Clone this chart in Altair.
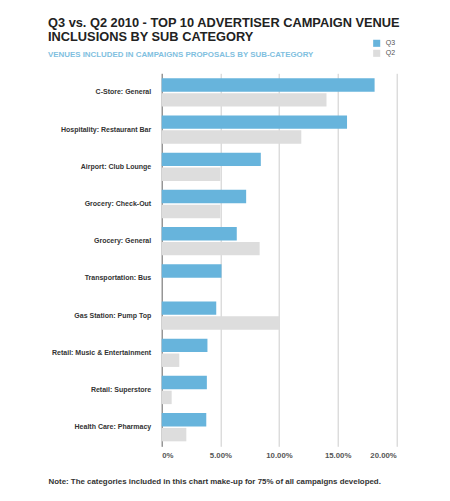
import altair as alt
import pandas as pd

categories = [
    "C-Store: General",
    "Hospitality: Restaurant Bar",
    "Airport: Club Lounge",
    "Grocery: Check-Out",
    "Grocery: General",
    "Transportation: Bus",
    "Gas Station: Pump Top",
    "Retail: Music & Entertainment",
    "Retail: Superstore",
    "Health Care: Pharmacy",
]
q3 = [18.15, 15.8, 8.45, 7.2, 6.4, 5.1, 4.65, 3.9, 3.85, 3.8]
q2 = [14.05, 11.9, 5.0, 5.0, 8.35, 0.0, 10.0, 1.5, 0.85, 2.1]
series = ["Q3", "Q2"]
colors = ["#67b4dc", "#dddddd"]
ticks = [0, 0.05, 0.10, 0.15, 0.20]

rows = []
for c, a, b in zip(categories, q3, q2):
    rows.append({"cat": c, "q": "Q3", "v": a / 100})
    rows.append({"cat": c, "q": "Q2", "v": b / 100})
df = pd.DataFrame(rows)

FONT = "Liberation Sans"
note = "Note: The categories included in this chart make-up for 75% of all campaigns developed."

chart = alt.Chart(df).mark_bar().encode(
    y=alt.Y("cat:N", sort=categories, title=None,
            scale=alt.Scale(paddingInner=0.24, paddingOuter=0.134),
            axis=alt.Axis(labelFont=FONT, labelFontWeight="bold", labelFontSize=7,
                          labelColor="#333333", labelPadding=11, ticks=False,
                          domainColor="#777777", domainWidth=1)),
    yOffset=alt.YOffset("q:N", sort=series, scale=alt.Scale(paddingInner=0.1)),
    x=alt.X("v:Q", scale=alt.Scale(domain=[0, 0.2], nice=False),
            title=note,
            axis=alt.Axis(values=ticks, labelExpr="datum.value == 0 ? '0%' : format(datum.value, '.2%')",
                          labelFont=FONT, labelFontWeight="bold", labelFontSize=7.8,
                          labelColor="#555555", labelPadding=5, ticks=False, domain=False,
                          gridColor="#cccccc", gridWidth=1,
                          titleFont=FONT, titleFontWeight="bold", titleFontSize=7.9, titleColor="#333333",
                          titleAnchor="start", titleAlign="left", titleBaseline="alphabetic",
                          titleX=-113.7, titleY=37.5)),
    color=alt.Color("q:N", sort=series, scale=alt.Scale(domain=series, range=colors),
                    legend=alt.Legend(title=None, orient="none", legendX=211, legendY=-34,
                                      symbolType="square", symbolSize=50, symbolStrokeWidth=0,
                                      labelFont=FONT, labelFontSize=7, labelColor="#555555",
                                      rowPadding=2, labelOffset=5)),
).properties(
    width=234.6,
    height=373,
    title=alt.TitleParams(
        text=["Q3 vs. Q2 2010 - TOP 10 ADVERTISER CAMPAIGN VENUE", "INCLUSIONS BY SUB CATEGORY"],
        subtitle="VENUES INCLUDED IN CAMPAIGNS PROPOSALS BY SUB-CATEGORY",
        anchor="start", frame="group", dx=-113.7,
        font=FONT, fontSize=12.8, fontWeight="bold", color="#222222", lineHeight=14,
        subtitleFont=FONT, subtitleFontSize=7.9, subtitleFontWeight="bold",
        subtitleColor="#7fc0e0", subtitlePadding=8, offset=-20,
    ),
    autosize=alt.AutoSizeParams(type="none"),
    padding={"left": 153.7, "top": 65.3, "right": 45.7, "bottom": 46.7},
).configure_view(stroke=None)

chart.save("out.html", embed_options={"renderer": "svg", "actions": False})
